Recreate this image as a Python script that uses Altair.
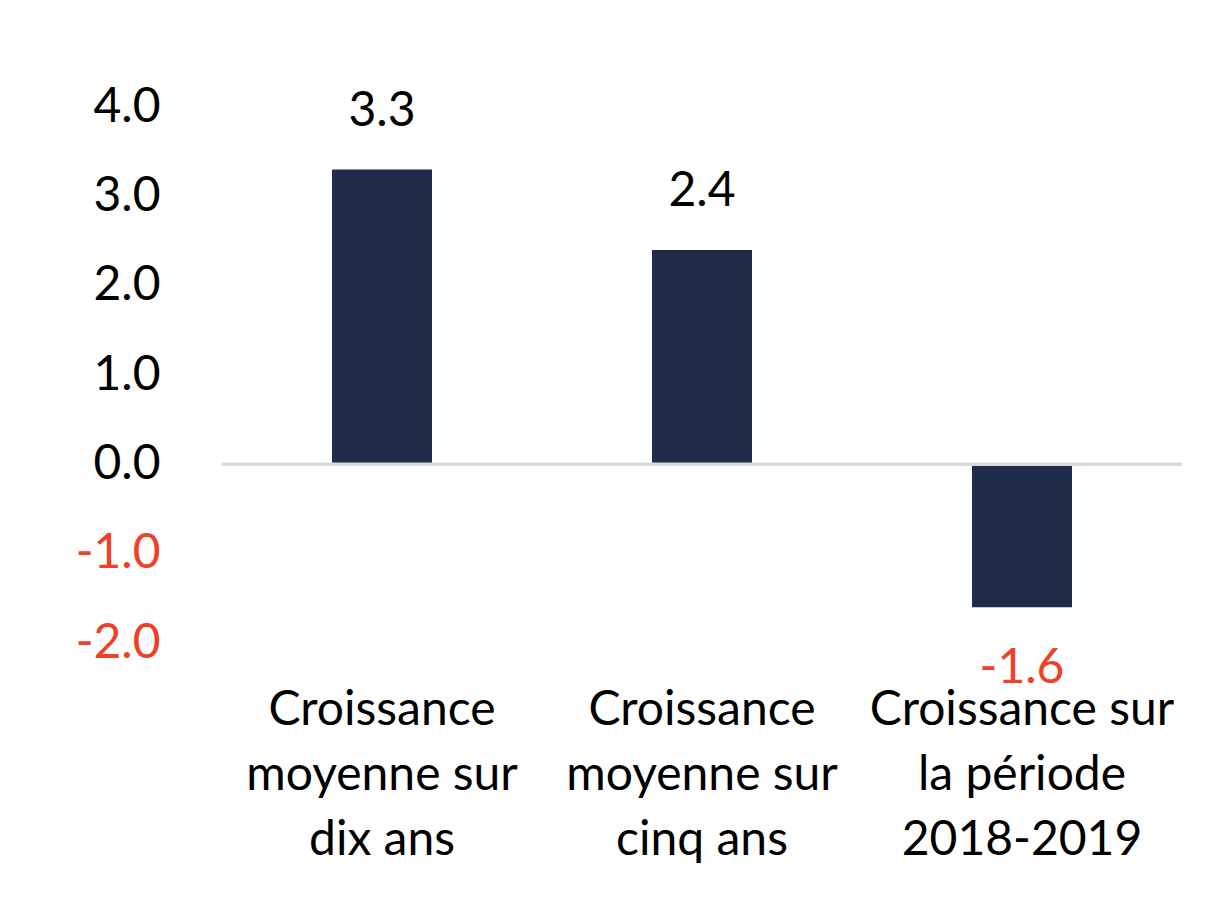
import altair as alt
import pandas as pd

categories = [
    "Croissance\nmoyenne sur\ndix ans",
    "Croissance\nmoyenne sur\ncinq ans",
    "Croissance sur\nla période\n2018-2019",
]
values = [3.3, 2.4, -1.6]
y_ticks = [-2.0, -1.0, 0.0, 1.0, 2.0, 3.0, 4.0]

BAR = "#1F2D4A"
RED = "#EF4127"
FONT = "Lato"
FS = 48

df = pd.DataFrame({"cat": categories, "val": values})
df["lab"] = [("-" if v < 0 else "") + f"{abs(v):.1f}" for v in values]

x = alt.X(
    "cat:N",
    sort=None,
    scale=alt.Scale(paddingInner=0.6875, paddingOuter=0.34375),
    axis=alt.Axis(
        title=None, domain=False, ticks=False, labelAngle=0,
        labelExpr="split(datum.label, '\\n')",
        labelFont=FONT, labelFontSize=FS, labelColor="black",
        labelLineHeight=65, labelPadding=43, labelBaseline="top",
        labelLimit=0,
    ),
)
y = alt.Y(
    "val:Q",
    scale=alt.Scale(domain=[-2, 4], nice=False, zero=False),
    axis=alt.Axis(
        title=None, domain=False, ticks=False, grid=False,
        values=y_ticks,
        labelExpr="(datum.value < 0 ? '-' : '') + format(abs(datum.value), '.1f')",
        labelColor=alt.expr(f"datum.value < 0 ? '{RED}' : 'black'"),
        labelFont=FONT, labelFontSize=FS, labelPadding=62,
    ),
)

base = alt.Chart(df)
bars = base.mark_bar(color=BAR).encode(x=x, y=y)

pos_text = base.transform_filter("datum.val >= 0").mark_text(
    font=FONT, fontSize=FS, color="black", baseline="alphabetic", dy=-44
).encode(x=alt.X("cat:N", sort=None), y="val:Q", text="lab:N")

neg_text = base.transform_filter("datum.val < 0").mark_text(
    font=FONT, fontSize=FS, color=RED, baseline="alphabetic", dy=76
).encode(x=alt.X("cat:N", sort=None), y="val:Q", text="lab:N")

zero = alt.Chart(pd.DataFrame({"z": [0]})).mark_rule(
    color="#D9D9D9", strokeWidth=3.5
).encode(y="z:Q")

chart = alt.layer(bars, zero, pos_text, neg_text).properties(
    width=960,
    height=536,
    autosize=alt.AutoSizeParams(type="none"),
    padding={"left": 214, "top": 99, "right": 24, "bottom": 250},
    background="white",
).configure_view(strokeWidth=0)

chart.save("out.html", embed_options={"renderer": "svg", "actions": False})
